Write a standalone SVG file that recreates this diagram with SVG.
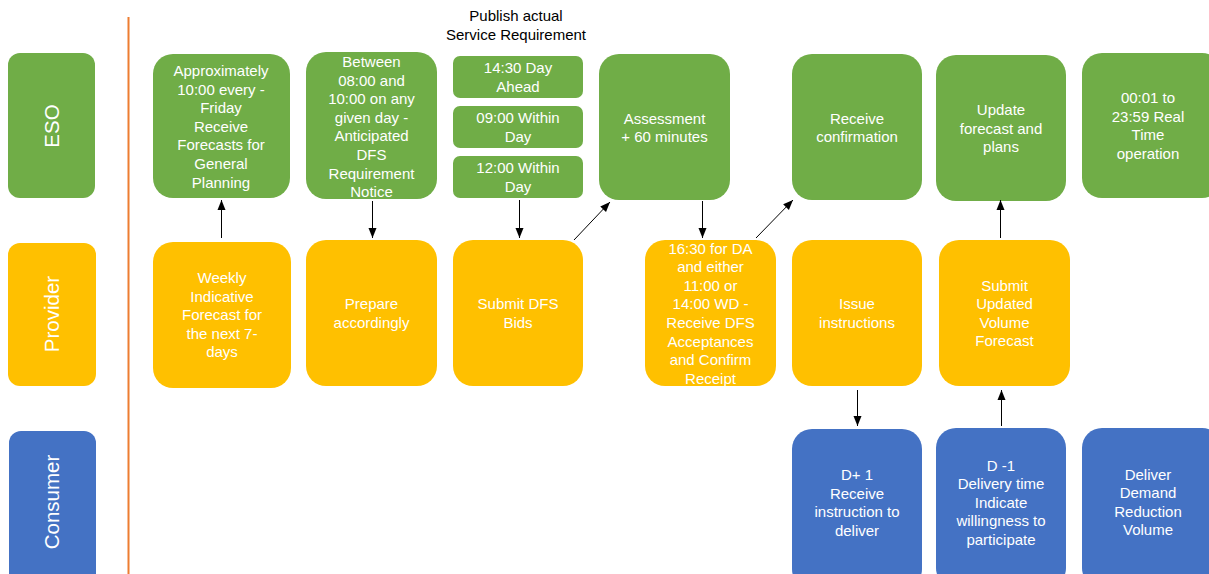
<svg xmlns="http://www.w3.org/2000/svg" width="1209" height="574" viewBox="0 0 1209 574">
<defs>
<marker id="ah" markerUnits="userSpaceOnUse" markerWidth="10" markerHeight="10" viewBox="0 0 10 10" refX="10" refY="5" orient="auto">
<path d="M0,1 L10,5 L0,9 Z" fill="#000"/>
</marker>
<style>
.g{fill:#70AD47}
.y{fill:#FFC000}
.b{fill:#4472C4}
.t{font-family:"Liberation Sans",Arial,sans-serif;font-size:15px;fill:#fff;text-anchor:middle}
.lane{font-family:"Liberation Sans",Arial,sans-serif;font-size:20.5px;fill:#fff;text-anchor:middle}
.k{font-family:"Liberation Sans",Arial,sans-serif;font-size:15px;fill:#000;text-anchor:middle}
.c{stroke:#000;stroke-width:1;fill:none;marker-end:url(#ah)}
</style>
</defs>
<rect width="1209" height="574" fill="#fff"/>
<line x1="128.5" y1="17" x2="128.5" y2="574" stroke="#ED7D31" stroke-width="2"/>

<g id="lane-eso"><rect class="g" x="8" y="53" width="87" height="145" rx="12"/><text class="lane" transform="translate(59,126) rotate(-90)">ESO</text></g>
<g id="lane-provider"><rect class="y" x="8" y="243" width="88" height="143" rx="12"/><text class="lane" transform="translate(59,314) rotate(-90)">Provider</text></g>
<g id="lane-consumer"><rect class="b" x="9" y="431" width="87" height="160" rx="12"/><text class="lane" transform="translate(59,502) rotate(-90)">Consumer</text></g>

<g id="title"><text class="k"><tspan x="516" y="21">Publish actual</tspan><tspan x="516" y="40">Service Requirement</tspan></text></g>

<g id="eso1"><rect class="g" x="153" y="54" width="137" height="144" rx="20"/><text class="t"><tspan x="221" y="76">Approximately</tspan><tspan x="221" y="94.6">10:00 every -</tspan><tspan x="221" y="113.2">Friday</tspan><tspan x="221" y="131.8">Receive</tspan><tspan x="221" y="150.4">Forecasts for</tspan><tspan x="221" y="169">General</tspan><tspan x="221" y="187.6">Planning</tspan></text></g>
<g id="eso2"><rect class="g" x="306" y="52" width="131" height="147" rx="20"/><text class="t"><tspan x="371.5" y="67">Between</tspan><tspan x="371.5" y="85.6">08:00 and</tspan><tspan x="371.5" y="104.2">10:00 on any</tspan><tspan x="371.5" y="122.8">given day -</tspan><tspan x="371.5" y="141.4">Anticipated</tspan><tspan x="371.5" y="160">DFS</tspan><tspan x="371.5" y="178.6">Requirement</tspan><tspan x="371.5" y="197.2">Notice</tspan></text></g>
<g id="eso3a"><rect class="g" x="453" y="56" width="130" height="42" rx="7"/><text class="t"><tspan x="518" y="73">14:30 Day</tspan><tspan x="518" y="92">Ahead</tspan></text></g>
<g id="eso3b"><rect class="g" x="453" y="106" width="130" height="42" rx="7"/><text class="t"><tspan x="518" y="123">09:00 Within</tspan><tspan x="518" y="142">Day</tspan></text></g>
<g id="eso3c"><rect class="g" x="453" y="156" width="130" height="42" rx="7"/><text class="t"><tspan x="518" y="173">12:00 Within</tspan><tspan x="518" y="192">Day</tspan></text></g>
<g id="eso4"><rect class="g" x="599" y="54" width="131" height="146" rx="20"/><text class="t"><tspan x="664.5" y="124">Assessment</tspan><tspan x="664.5" y="142">+ 60 minutes</tspan></text></g>
<g id="eso5"><rect class="g" x="792" y="54" width="130" height="146" rx="20"/><text class="t"><tspan x="857" y="124">Receive</tspan><tspan x="857" y="142">confirmation</tspan></text></g>
<g id="eso6"><rect class="g" x="936" y="55" width="130" height="146" rx="20"/><text class="t"><tspan x="1001" y="115">Update</tspan><tspan x="1001" y="133.6">forecast and</tspan><tspan x="1001" y="152.2">plans</tspan></text></g>
<g id="eso7"><rect class="g" x="1082" y="53" width="140" height="145" rx="20"/><text class="t"><tspan x="1148" y="103">00:01 to</tspan><tspan x="1148" y="121.6">23:59 Real</tspan><tspan x="1148" y="140.2">Time</tspan><tspan x="1148" y="158.8">operation</tspan></text></g>

<g id="prov1"><rect class="y" x="153" y="242" width="138" height="146" rx="20"/><text class="t"><tspan x="222" y="283">Weekly</tspan><tspan x="222" y="301.6">Indicative</tspan><tspan x="222" y="320.2">Forecast for</tspan><tspan x="222" y="338.8">the next 7-</tspan><tspan x="222" y="357.4">days</tspan></text></g>
<g id="prov2"><rect class="y" x="306" y="240" width="131" height="146" rx="20"/><text class="t"><tspan x="371.5" y="309">Prepare</tspan><tspan x="371.5" y="327.6">accordingly</tspan></text></g>
<g id="prov3"><rect class="y" x="453" y="240" width="130" height="146" rx="20"/><text class="t"><tspan x="518" y="309">Submit DFS</tspan><tspan x="518" y="327.6">Bids</tspan></text></g>
<g id="prov4"><rect class="y" x="645" y="240" width="131" height="146" rx="20"/><text class="t"><tspan x="710.5" y="253.5">16:30 for DA</tspan><tspan x="710.5" y="272.1">and either</tspan><tspan x="710.5" y="290.7">11:00 or</tspan><tspan x="710.5" y="309.3">14:00 WD -</tspan><tspan x="710.5" y="327.9">Receive DFS</tspan><tspan x="710.5" y="346.5">Acceptances</tspan><tspan x="710.5" y="365.1">and Confirm</tspan><tspan x="710.5" y="383.7">Receipt</tspan></text></g>
<g id="prov5"><rect class="y" x="792" y="240" width="130" height="146" rx="20"/><text class="t"><tspan x="857" y="309">Issue</tspan><tspan x="857" y="327.6">instructions</tspan></text></g>
<g id="prov6"><rect class="y" x="939" y="240" width="131" height="146" rx="20"/><text class="t"><tspan x="1004.5" y="290.5">Submit</tspan><tspan x="1004.5" y="309.1">Updated</tspan><tspan x="1004.5" y="327.7">Volume</tspan><tspan x="1004.5" y="346.3">Forecast</tspan></text></g>

<g id="cons1"><rect class="b" x="792" y="429" width="130" height="160" rx="20"/><text class="t"><tspan x="857" y="480">D+ 1</tspan><tspan x="857" y="498.6">Receive</tspan><tspan x="857" y="517.2">instruction to</tspan><tspan x="857" y="535.8">deliver</tspan></text></g>
<g id="cons2"><rect class="b" x="936" y="428" width="130" height="160" rx="20"/><text class="t"><tspan x="1001" y="470.5">D -1</tspan><tspan x="1001" y="489.1">Delivery time</tspan><tspan x="1001" y="507.7">Indicate</tspan><tspan x="1001" y="526.3">willingness to</tspan><tspan x="1001" y="544.9">participate</tspan></text></g>
<g id="cons3"><rect class="b" x="1082" y="428" width="140" height="160" rx="20"/><text class="t"><tspan x="1148" y="479.5">Deliver</tspan><tspan x="1148" y="498.1">Demand</tspan><tspan x="1148" y="516.7">Reduction</tspan><tspan x="1148" y="535.3">Volume</tspan></text></g>

<g id="connectors">
<line class="c" x1="221.5" y1="238" x2="221.5" y2="200"/>
<line class="c" x1="372.5" y1="201" x2="372.5" y2="238"/>
<line class="c" x1="519.5" y1="200" x2="519.5" y2="238"/>
<line class="c" x1="574" y1="240" x2="610" y2="202"/>
<line class="c" x1="702.5" y1="201" x2="702.5" y2="238"/>
<line class="c" x1="756" y1="238" x2="793" y2="200"/>
<line class="c" x1="1000.5" y1="238" x2="1000.5" y2="200"/>
<line class="c" x1="857.5" y1="390" x2="857.5" y2="426"/>
<line class="c" x1="1001.5" y1="426" x2="1001.5" y2="390"/>
</g>
</svg>
